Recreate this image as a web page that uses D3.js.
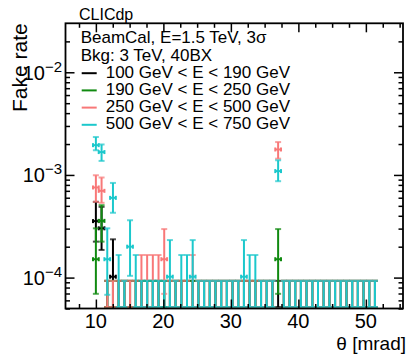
<!DOCTYPE html>
<html>
<head>
<meta charset="utf-8">
<script src="https://cdn.jsdelivr.net/npm/d3@7"></script>
<style>
	body { margin: 0; background: #fff; }
	svg { display: block; font-family: "Liberation Sans", Arial, sans-serif; }
</style>
</head>
<body>
<svg id="chart" width="409" height="355"></svg>
<script>
// histogram binning (mrad)
const firstBin = 10, binWidth = 0.84375, nBins = 50, emptyFrom = 2;

const seriesLabels = [
	"100 GeV < E < 190 GeV",
	"190 GeV < E < 250 GeV",
	"250 GeV < E < 500 GeV",
	"500 GeV < E < 750 GeV"
];
const seriesColors = ["#000000", "#108a10", "#f87878", "#1cc8cc"];

// filled bins: [bin, fake rate, lower end, upper end]
const pointsE100 = [
	[0, 3.55e-4, 2.24e-4, 5.47e-4],
	[1, 3.02e-4, 1.86e-4, 4.89e-4],
	[3, 1.02e-4, 4.0e-5, 2.36e-4]
];
const pointsE190 = [
	[0, 1.51e-4, 6.95e-5, 3.02e-4],
	[1, 3.57e-4, 2.24e-4, 5.08e-4],
	[32, 1.51e-4, 6.95e-5, 2.97e-4]
];
const pointsE250 = [
	[0, 7.55e-4, 5.47e-4, 9.93e-4],
	[1, 7.0e-4, 5.35e-4, 9.44e-4],
	[12, 1.51e-4, 6.95e-5, 2.97e-4],
	[32, 1.77e-3, 1.44e-3, 2.09e-3]
];
const pointsE500 = [
	[0, 1.95e-3, 1.74e-3, 2.34e-3],
	[1, 1.67e-3, 1.37e-3, 1.98e-3],
	[2, 1.51e-4, 6.8e-5, 3.02e-4],
	[3, 5.98e-4, 4.28e-4, 8.36e-4],
	[6, 2.0e-4, 1.04e-4, 3.62e-4],
	[13, 1.02e-4, 3.0e-5, 2.32e-4],
	[17, 1.02e-4, 3.0e-5, 2.32e-4],
	[26, 1.02e-4, 3.0e-5, 2.32e-4],
	[32, 1.09e-3, 8.69e-4, 1.39e-3]
];

// empty bins: upper error 9.3e-5 unless listed here
const emptyLimit = 9.3e-5;
const limitsE100 = [];
const limitsE190 = [];
const limitsE250 = [[8, 1.66e-4], [9, 1.66e-4], [10, 1.66e-4], [11, 1.66e-4], [17, 1.66e-4]];
const limitsE500 = [[4, 1.66e-4], [7, 1.66e-4], [15, 1.66e-4], [16, 1.66e-4], [27, 1.66e-4], [28, 1.66e-4]];

const xMajor = [10, 20, 30, 40, 50];
const xMinor = [7.5, 12.5, 15, 17.5, 22.5, 25, 27.5, 32.5, 35, 37.5, 42.5, 45, 47.5, 52.5, 55];
const yMajor = [1e-4, 1e-3, 1e-2];
const yExponents = ["−4", "−3", "−2"];
const yMinor = [5e-5, 6e-5, 7e-5, 8e-5, 9e-5, 2e-4, 3e-4, 4e-4, 5e-4, 6e-4, 7e-4, 8e-4, 9e-4,
	2e-3, 3e-3, 4e-3, 5e-3, 6e-3, 7e-3, 8e-3, 9e-3, 2e-2];

const legendHeader = ["BeamCal, E=1.5 TeV, 3σ", "Bkg: 3 TeV, 40BX"];

// --------------------------------------------------------------------

const L = 65.5, R = 403, T = 23.3, B = 308.5;
const yMin = 5e-5, yMax = 0.03;

const svg = d3.select("#chart");

const x = d3.scaleLinear().domain([5.5, 55.5]).range([L, R]);
const y = d3.scaleLog().domain([yMin, yMax]).range([B, T]);

const binCenter = k => firstBin + k * binWidth;
const yClip = v => Math.min(y(Math.max(v, yMin)), B - 1.5);

function drawSeries(points, limits, color) {
	const filled = new Set(points.map(p => p[0]));
	const limitMap = new Map(limits);
	const empties = d3.range(emptyFrom, nBins)
		.filter(k => !filled.has(k))
		.map(k => [k, 0, 0, limitMap.has(k) ? limitMap.get(k) : emptyLimit]);
	const bins = empties.concat(points);

	const g = svg.append("g")
		.attr("stroke", color)
		.attr("stroke-width", 2)
		.attr("fill", "none");

	g.selectAll("line.err")
		.data(bins)
		.join("line")
		.attr("class", "err")
		.attr("x1", d => x(binCenter(d[0])))
		.attr("x2", d => x(binCenter(d[0])))
		.attr("y1", d => yClip(d[2]))
		.attr("y2", d => yClip(d[3]));

	const caps = bins.flatMap(d => [[d[0], d[2]], [d[0], d[3]]]);
	g.selectAll("line.cap")
		.data(caps)
		.join("line")
		.attr("class", "cap")
		.attr("stroke-opacity", 0.7)
		.attr("x1", d => x(binCenter(d[0])) - 3)
		.attr("x2", d => x(binCenter(d[0])) + 3)
		.attr("y1", d => yClip(d[1]))
		.attr("y2", d => yClip(d[1]));

	const marks = g.selectAll("g.mark")
		.data(points)
		.join("g")
		.attr("class", "mark");

	marks.append("line")
		.attr("x1", d => x(binCenter(d[0]) - binWidth / 2))
		.attr("x2", d => x(binCenter(d[0]) + binWidth / 2))
		.attr("y1", d => y(d[1]))
		.attr("y2", d => y(d[1]));

	[-1, 1].forEach(s => {
		marks.append("line")
			.attr("x1", d => x(binCenter(d[0]) + s * binWidth / 2))
			.attr("x2", d => x(binCenter(d[0]) + s * binWidth / 2))
			.attr("y1", d => y(d[1]) - 2)
			.attr("y2", d => y(d[1]) + 2);
	});
}

drawSeries(pointsE100, limitsE100, seriesColors[0]);
drawSeries(pointsE190, limitsE190, seriesColors[1]);
drawSeries(pointsE250, limitsE250, seriesColors[2]);
drawSeries(pointsE500, limitsE500, seriesColors[3]);

// ticks on all four sides, pointing inward
function tickRow(axis, values, size, transform) {
	svg.append("g")
		.attr("transform", transform)
		.call(axis.tickValues(values).tickSizeInner(-size).tickSizeOuter(0).tickFormat(""))
		.call(g => g.select(".domain").remove())
		.call(g => g.selectAll("line").attr("stroke-width", 1.5));
}

tickRow(d3.axisBottom(x), xMajor, 9, `translate(0,${B})`);
tickRow(d3.axisBottom(x), xMinor, 4.5, `translate(0,${B})`);
tickRow(d3.axisTop(x), xMajor, 9, `translate(0,${T})`);
tickRow(d3.axisTop(x), xMinor, 4.5, `translate(0,${T})`);
tickRow(d3.axisLeft(y), yMajor, 9, `translate(${L},0)`);
tickRow(d3.axisLeft(y), yMinor, 4.5, `translate(${L},0)`);
tickRow(d3.axisRight(y), yMajor, 9, `translate(${R},0)`);
tickRow(d3.axisRight(y), yMinor, 4.5, `translate(${R},0)`);

svg.append("rect")
	.attr("x", L).attr("y", T)
	.attr("width", R - L).attr("height", B - T)
	.attr("fill", "none")
	.attr("stroke", "#000")
	.attr("stroke-width", 1.8);

// tick labels
svg.append("g")
	.selectAll("text")
	.data(xMajor)
	.join("text")
	.attr("x", d => x(d))
	.attr("y", 328)
	.attr("text-anchor", "middle")
	.attr("font-size", 20)
	.text(d => d);

const yLabels = svg.append("g")
	.selectAll("text")
	.data(yMajor)
	.join("text")
	.attr("x", 62)
	.attr("y", d => y(d) + 7.4)
	.attr("text-anchor", "end")
	.attr("font-size", 20);
yLabels.append("tspan").text("10");
yLabels.append("tspan")
	.attr("dy", -8)
	.attr("font-size", 15)
	.text((d, i) => yExponents[i]);

// axis titles
svg.append("text")
	.attr("x", 406).attr("y", 350)
	.attr("text-anchor", "end")
	.attr("font-size", 19)
	.text("θ [mrad]");

svg.append("text")
	.attr("transform", "translate(26.5,23.3) rotate(-90)")
	.attr("text-anchor", "end")
	.attr("font-size", 21)
	.text("Fake rate");

svg.append("text")
	.attr("x", 79).attr("y", 20)
	.attr("font-size", 16)
	.text("CLICdp");

// legend
const rowY = i => 43.3 + 17.2 * i;

svg.append("g")
	.selectAll("text")
	.data(legendHeader)
	.join("text")
	.attr("x", 80.7)
	.attr("y", (d, i) => rowY(i))
	.attr("font-size", 17)
	.text(d => d);

const entries = svg.append("g")
	.selectAll("g")
	.data(seriesLabels)
	.join("g")
	.attr("transform", (d, i) => `translate(0,${rowY(i + 2)})`);

entries.append("line")
	.attr("x1", 81.7).attr("x2", 96.7)
	.attr("y1", -4.5).attr("y2", -4.5)
	.attr("stroke", (d, i) => seriesColors[i])
	.attr("stroke-width", 2);

entries.append("text")
	.attr("x", 105.7)
	.attr("font-size", 17)
	.text(d => d);
</script>
</body>
</html>
